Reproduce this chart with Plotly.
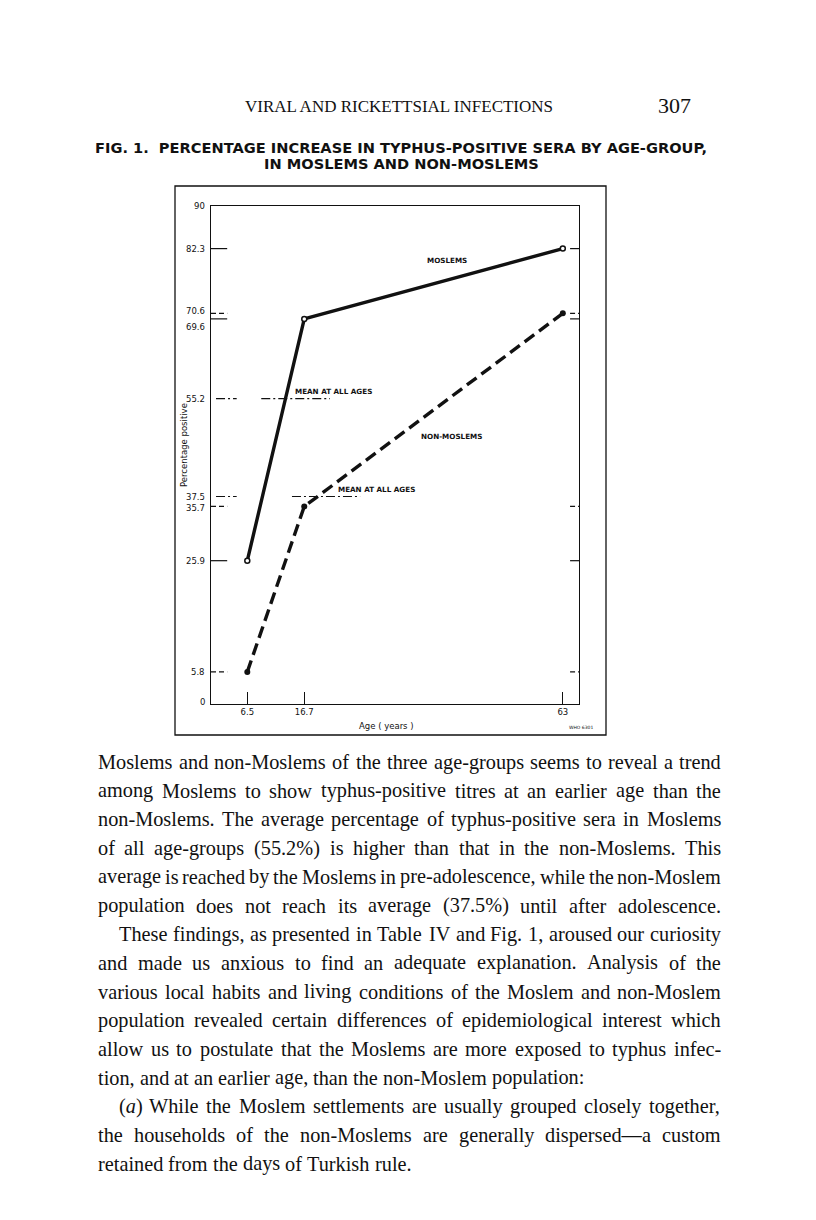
import re
import plotly.graph_objects as go

# ---- values ----
AGE_GROUPS = [6.5, 16.7, 63]
AGE_LABELS = ["6.5", "16.7", "63"]
MOSLEMS = [25.9, 69.6, 82.3]
NON_MOSLEMS = [5.8, 35.7, 70.6]
MEAN_MOSLEMS = 55.2
MEAN_NON_MOSLEMS = 37.5
Y_LABELS = [0, 5.8, 25.9, 35.7, 37.5, 55.2, 69.6, 70.6, 82.3, 90]

HEADER = "VIRAL AND RICKETTSIAL INFECTIONS"
PAGE_NO = "307"
FIG_TITLE = ["FIG. 1.  PERCENTAGE INCREASE IN TYPHUS-POSITIVE SERA BY AGE-GROUP,",
             "IN MOSLEMS AND NON-MOSLEMS"]

# (text, indented, justified)
BODY_LINES = [
    ("Moslems and non-Moslems of the three age-groups seems to reveal a trend", False, True),
    ("among Moslems to show typhus-positive titres at an earlier age than the", False, True),
    ("non-Moslems.  The average percentage of typhus-positive sera in Moslems", False, True),
    ("of all age-groups (55.2%) is higher than that in the non-Moslems.  This", False, True),
    ("average is reached by the Moslems in pre-adolescence, while the non-Moslem", False, True),
    ("population does not reach its average (37.5%) until after adolescence.", False, True),
    ("These findings, as presented in Table IV and Fig. 1, aroused our curiosity", True, True),
    ("and made us anxious to find an adequate explanation.  Analysis of the", False, True),
    ("various local habits and living conditions of the Moslem and non-Moslem", False, True),
    ("population revealed certain differences of epidemiological interest which", False, True),
    ("allow us to postulate that the Moslems are more exposed to typhus infec-", False, True),
    ("tion, and at an earlier age, than the non-Moslem population:", False, False),
    ("(<i>a</i>) While the Moslem settlements are usually grouped closely together,", True, True),
    ("the households of the non-Moslems are generally dispersed\u2014a custom", False, True),
    ("retained from the days of Turkish rule.", False, False),
]

W, H = 816, 1220
XMAX, YMAX = 65.9, 90
INK = "#111111"
SANS = "DejaVu Sans"
SERIF = "Liberation Serif"


def px(x):
    return x / W


def py(y):
    return 1 - y / H


# Times-compatible advance widths (per 1000 em), used to justify body lines
TIMES = dict(zip("abcdefghijklmnopqrstuvwxyz",
                 [444, 500, 444, 500, 444, 333, 500, 500, 278, 278, 500, 278, 778,
                  500, 500, 500, 500, 333, 389, 278, 500, 500, 722, 500, 500, 444]))
TIMES.update(zip("ABCDEFGHIJKLMNOPQRSTUVWXYZ",
                 [722, 667, 667, 722, 611, 556, 722, 722, 333, 389, 722, 611, 889,
                  722, 722, 556, 722, 667, 556, 611, 722, 722, 944, 722, 722, 611]))
TIMES.update({c: 500 for c in "0123456789"})
TIMES.update({" ": 250, ",": 250, ".": 250, ":": 278, "-": 333, "(": 333, ")": 333,
              "%": 833, "\u2014": 1000})


def text_width(s, size):
    plain = re.sub(r"<[^>]+>", "", s)
    return sum(TIMES.get(c, 500) for c in plain) * size / 1000


def page_text(x, y, text, size, family=SERIF, xanchor="center", **kw):
    # paper annotations need explicit anchors, 'auto' flips them near the edges
    return dict(x=px(x), y=py(y), xref="paper", yref="paper", text=text, showarrow=False,
                xanchor=xanchor, yanchor="middle", borderpad=0,
                font=dict(family=family, size=size, color=INK, **kw.pop("font", {})), **kw)


fig = go.Figure()

# ---- series ----
fig.add_trace(go.Scatter(
    x=AGE_GROUPS, y=MOSLEMS, mode="lines+markers", name="Moslems",
    line=dict(color=INK, width=3.4),
    marker=dict(symbol="circle", size=5, color="white", line=dict(color=INK, width=1.5)),
))
fig.add_trace(go.Scatter(
    x=AGE_GROUPS, y=NON_MOSLEMS, mode="lines+markers", name="Non-Moslems",
    line=dict(color=INK, width=3.4, dash="12px,6px"),
    marker=dict(symbol="circle", size=6, color=INK),
))

# ---- short value ticks on the left / right frame, styled like their series ----
LEFT_TICK = 2.9
RIGHT_TICK = 1.6
for vals, dash in [(MOSLEMS, "solid"), (NON_MOSLEMS, "5px,3px")]:
    for v in vals:
        fig.add_trace(go.Scatter(x=[0, LEFT_TICK], y=[v, v], mode="lines",
                                 line=dict(color=INK, width=1.2, dash=dash)))
        fig.add_trace(go.Scatter(x=[XMAX - RIGHT_TICK, XMAX], y=[v, v], mode="lines",
                                 line=dict(color=INK, width=1.2, dash=dash)))

# ---- means at all ages ----
MEAN_DASH = "9px,3px,2px,3px"
for v, (x0, x1) in [(MEAN_MOSLEMS, (9.0, 21.3)), (MEAN_NON_MOSLEMS, (14.5, 26.7))]:
    fig.add_trace(go.Scatter(x=[0.9, 4.6], y=[v, v], mode="lines",
                             line=dict(color=INK, width=1.2, dash=MEAN_DASH)))
    fig.add_trace(go.Scatter(x=[x0, x1], y=[v, v], mode="lines",
                             line=dict(color=INK, width=1.2, dash=MEAN_DASH)))

ann = []

# y value labels (69.6 / 70.6 nudged apart as in the print)
nudge = {70.6: 2, 69.6: -8, 35.7: -1.5, 0: 2}
for v in Y_LABELS:
    ann.append(dict(x=0, y=v, xref="x", yref="y", text=f"{v:g}", showarrow=False,
                    xanchor="right", yanchor="middle", xshift=-4, yshift=nudge.get(v, 0),
                    font=dict(family=SANS, size=8.5, color=INK)))

chart_font = dict(family=SANS, size=7.2, color=INK, weight="bold")
ann += [
    dict(x=42.3, y=80.1, xref="x", yref="y", text="MOSLEMS", showarrow=False, font=chart_font),
    dict(x=43.0, y=48.3, xref="x", yref="y", text="NON-MOSLEMS", showarrow=False, font=chart_font),
    dict(x=14.6, y=MEAN_MOSLEMS, xref="x", yref="y", text="MEAN AT ALL AGES", showarrow=False,
         xanchor="left", yanchor="bottom", yshift=1, font=chart_font),
    dict(x=22.4, y=MEAN_NON_MOSLEMS, xref="x", yref="y", text="MEAN AT ALL AGES", showarrow=False,
         xanchor="left", yanchor="bottom", yshift=1, font=chart_font),
    page_text(184, 445, "Percentage positive", 8.5, SANS, textangle=-90),
    page_text(386, 726, "Age ( years )", 8.5, SANS),
    page_text(581, 727, "WHO 6301", 4.5, SANS),
]

# ---- page text ----
ann.append(page_text(399, 106, HEADER, 17))
ann.append(page_text(692, 105, PAGE_NO, 22, xanchor="right"))
for i, line in enumerate(FIG_TITLE):
    ann.append(page_text(401, 147 + 16 * i, line, 14.6, SANS, font=dict(weight="bold")))

BODY_SIZE = 20.3
LEFT, RIGHT, INDENT = 97, 720, 21
TOP, STEP = 762, 28.7
for i, (line, indented, justified) in enumerate(BODY_LINES):
    words = line.split()
    x0 = LEFT + (INDENT if indented else 0)
    widths = [text_width(w, BODY_SIZE) for w in words]
    space = text_width(" ", BODY_SIZE)
    if justified and len(words) > 1:
        gap = max((RIGHT - x0 - sum(widths)) / (len(words) - 1), 3.0)
    else:
        gap = space
    x = x0
    for w, wd in zip(words, widths):
        ann.append(page_text(x, TOP + STEP * i, w, BODY_SIZE, xanchor="left"))
        x += wd + gap

fig.update_layout(
    width=W, height=H,
    margin=dict(l=0, r=0, t=0, b=0),
    paper_bgcolor="white", plot_bgcolor="white",
    showlegend=False,
    xaxis=dict(domain=[px(211), px(579)], range=[0, XMAX],
               tickvals=AGE_GROUPS, ticktext=AGE_LABELS,
               ticks="inside", ticklen=12, tickwidth=1.3, tickcolor=INK,
               showline=True, mirror=True, linecolor=INK, linewidth=1.3,
               showgrid=False, zeroline=False,
               tickfont=dict(family=SANS, size=8.5, color=INK)),
    yaxis=dict(domain=[py(704), py(206)], range=[0, YMAX],
               showticklabels=False, ticks="",
               showline=True, mirror=True, linecolor=INK, linewidth=1.3,
               showgrid=False, zeroline=False),
    annotations=ann,
    shapes=[dict(type="rect", xref="paper", yref="paper",
                 x0=px(175), x1=px(606), y0=py(735), y1=py(186),
                 line=dict(color=INK, width=1.3))],
)

# the default page body has an 8px margin; drop it so paper pixels line up with the page
fig.write_html("out.html", config={"displayModeBar": False},
               post_script="document.body.style.margin='0';")
